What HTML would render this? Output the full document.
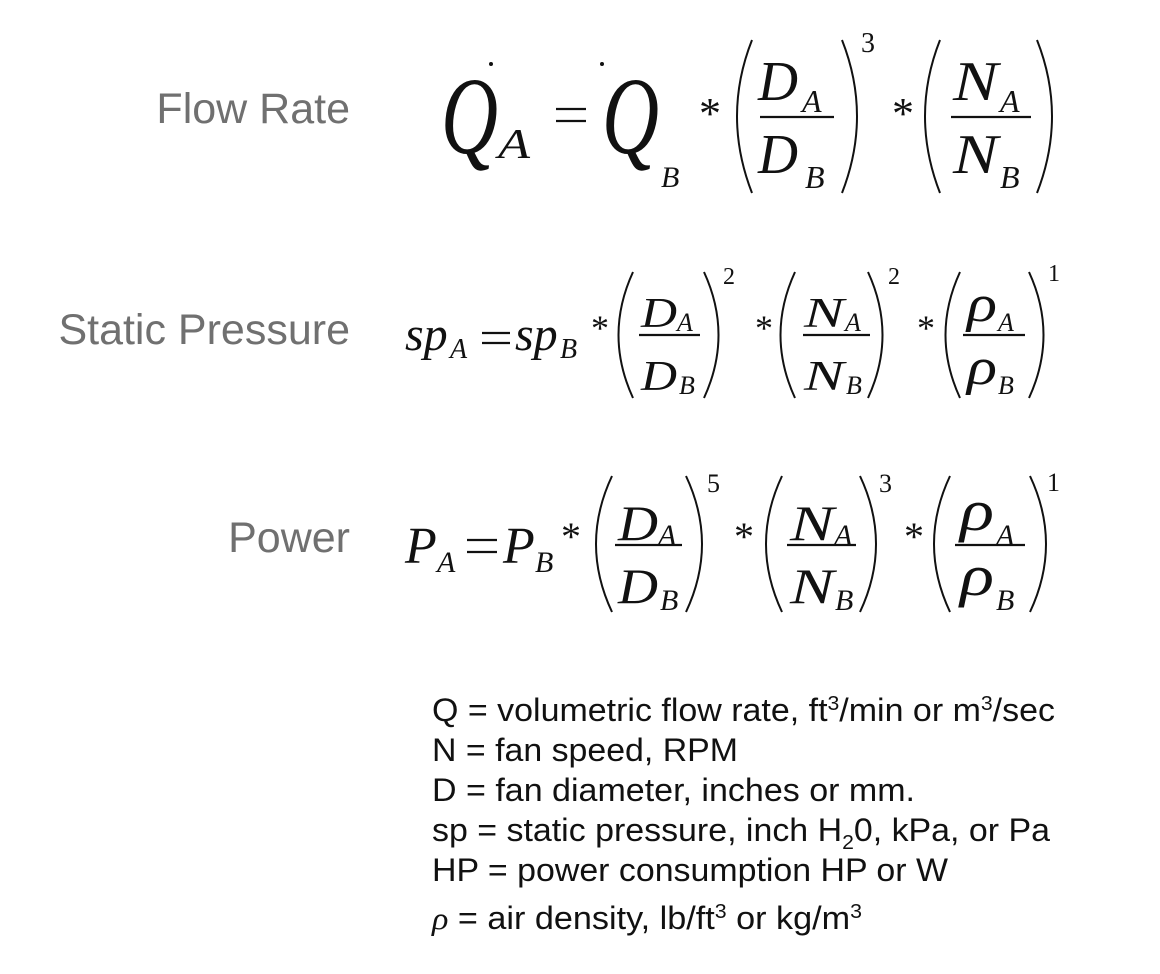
<!DOCTYPE html>
<html><head><meta charset="utf-8"><style>
html,body{margin:0;padding:0;background:#fff;}
svg{display:block;}
.l{font-family:"Liberation Sans",sans-serif;font-size:43px;fill:#707070;}
.m{font-family:"Liberation Serif",serif;font-style:italic;fill:#111;}
.n{font-family:"Liberation Serif",serif;fill:#111;}
.g{font-family:"Liberation Sans",sans-serif;font-size:32px;fill:#111;}
path{fill:none;stroke:#111;stroke-width:2;}
line{stroke:#111;stroke-width:2.2;}
</style></head><body>
<svg width="1160" height="974" viewBox="0 0 1160 974" xmlns="http://www.w3.org/2000/svg">
<text class="l" x="350" y="123" text-anchor="end">Flow Rate</text>
<text class="l" x="350" y="344" text-anchor="end">Static Pressure</text>
<text class="l" x="350" y="552" text-anchor="end">Power</text>

<!-- Eq1 -->
<text class="m" x="441" y="153" font-size="110" textLength="57" lengthAdjust="spacingAndGlyphs">Q</text>
<circle cx="491" cy="64" r="2" fill="#111"/>
<text class="m" x="498" y="158" font-size="42" textLength="32" lengthAdjust="spacingAndGlyphs">A</text>
<line x1="556" y1="109" x2="586" y2="109"/><line x1="556" y1="121" x2="586" y2="121"/>
<text class="m" x="602" y="153" font-size="110" textLength="57" lengthAdjust="spacingAndGlyphs">Q</text>
<circle cx="602" cy="64" r="2" fill="#111"/>
<text class="m" x="661" y="187" font-size="30">B</text>
<text class="n" x="699" y="128" font-size="44">*</text>
<path d="M752,40 Q722,116 752,193"/>
<text class="m" x="758" y="100" font-size="56" textLength="40" lengthAdjust="spacingAndGlyphs">D</text>
<text class="m" x="802" y="112" font-size="32">A</text>
<line x1="760" y1="117" x2="834" y2="117"/>
<text class="m" x="758" y="173" font-size="56" textLength="40" lengthAdjust="spacingAndGlyphs">D</text>
<text class="m" x="805" y="188" font-size="32">B</text>
<path d="M842,40 Q872,116 842,193"/>
<text class="n" x="861" y="52" font-size="28">3</text>
<text class="n" x="892" y="128" font-size="44">*</text>
<path d="M940,40 Q910,116 940,193"/>
<text class="m" x="953" y="100" font-size="56" textLength="45" lengthAdjust="spacingAndGlyphs">N</text>
<text class="m" x="1000" y="112" font-size="32">A</text>
<line x1="951" y1="117" x2="1031" y2="117"/>
<text class="m" x="953" y="173" font-size="56" textLength="45" lengthAdjust="spacingAndGlyphs">N</text>
<text class="m" x="1000" y="188" font-size="32">B</text>
<path d="M1037,40 Q1067,116 1037,193"/>

<!-- Eq2 -->
<text class="m" x="405" y="350" font-size="48">sp</text>
<text class="m" x="450" y="358" font-size="28">A</text>
<line x1="482" y1="333" x2="510" y2="333"/><line x1="482" y1="343" x2="510" y2="343"/>
<text class="m" x="515" y="350" font-size="48">sp</text>
<text class="m" x="560" y="358" font-size="28">B</text>
<text class="n" x="591" y="340" font-size="36">*</text>
<path d="M633,272 Q604,335 633,398"/>
<text class="m" x="641" y="327" font-size="42" textLength="36" lengthAdjust="spacingAndGlyphs">D</text>
<text class="m" x="677" y="331" font-size="26">A</text>
<line x1="639" y1="335" x2="700" y2="335"/>
<text class="m" x="641" y="390" font-size="42" textLength="36" lengthAdjust="spacingAndGlyphs">D</text>
<text class="m" x="679" y="394" font-size="26">B</text>
<path d="M704,272 Q733,335 704,398"/>
<text class="n" x="723" y="284" font-size="24">2</text>
<text class="n" x="755" y="340" font-size="36">*</text>
<path d="M795,272 Q766,335 795,398"/>
<text class="m" x="804" y="327" font-size="42" textLength="40" lengthAdjust="spacingAndGlyphs">N</text>
<text class="m" x="845" y="331" font-size="26">A</text>
<line x1="803" y1="335" x2="870" y2="335"/>
<text class="m" x="804" y="390" font-size="42" textLength="40" lengthAdjust="spacingAndGlyphs">N</text>
<text class="m" x="846" y="394" font-size="26">B</text>
<path d="M868,272 Q897,335 868,398"/>
<text class="n" x="888" y="284" font-size="24">2</text>
<text class="n" x="917" y="340" font-size="36">*</text>
<path d="M960,272 Q931,335 960,398"/>
<text class="m" x="967" y="321" font-size="52" textLength="30" lengthAdjust="spacingAndGlyphs">ρ</text>
<text class="m" x="998" y="331" font-size="26">A</text>
<line x1="963" y1="335" x2="1025" y2="335"/>
<text class="m" x="967" y="384" font-size="52" textLength="30" lengthAdjust="spacingAndGlyphs">ρ</text>
<text class="m" x="998" y="394" font-size="26">B</text>
<path d="M1029,272 Q1058,335 1029,398"/>
<text class="n" x="1048" y="281" font-size="24">1</text>

<!-- Eq3 -->
<text class="m" x="405" y="563" font-size="52">P</text>
<text class="m" x="437" y="572" font-size="30">A</text>
<line x1="467" y1="540" x2="497" y2="540"/><line x1="467" y1="552" x2="497" y2="552"/>
<text class="m" x="503" y="563" font-size="52">P</text>
<text class="m" x="535" y="572" font-size="30">B</text>
<text class="n" x="561" y="550" font-size="40">*</text>
<path d="M612,476 Q580,544 612,612"/>
<text class="m" x="618" y="540" font-size="50" textLength="40" lengthAdjust="spacingAndGlyphs">D</text>
<text class="m" x="658" y="545" font-size="30">A</text>
<line x1="615" y1="545" x2="682" y2="545"/>
<text class="m" x="618" y="603" font-size="50" textLength="40" lengthAdjust="spacingAndGlyphs">D</text>
<text class="m" x="660" y="610" font-size="30">B</text>
<path d="M686,476 Q718,544 686,612"/>
<text class="n" x="707" y="492" font-size="26">5</text>
<text class="n" x="734" y="550" font-size="40">*</text>
<path d="M782,476 Q750,544 782,612"/>
<text class="m" x="790" y="540" font-size="50" textLength="44" lengthAdjust="spacingAndGlyphs">N</text>
<text class="m" x="834" y="545" font-size="30">A</text>
<line x1="787" y1="545" x2="856" y2="545"/>
<text class="m" x="790" y="603" font-size="50" textLength="44" lengthAdjust="spacingAndGlyphs">N</text>
<text class="m" x="835" y="610" font-size="30">B</text>
<path d="M860,476 Q892,544 860,612"/>
<text class="n" x="879" y="492" font-size="26">3</text>
<text class="n" x="904" y="550" font-size="40">*</text>
<path d="M950,476 Q918,544 950,612"/>
<text class="m" x="960" y="530" font-size="58" textLength="34" lengthAdjust="spacingAndGlyphs">ρ</text>
<text class="m" x="996" y="545" font-size="30">A</text>
<line x1="955" y1="545" x2="1025" y2="545"/>
<text class="m" x="960" y="595" font-size="58" textLength="34" lengthAdjust="spacingAndGlyphs">ρ</text>
<text class="m" x="996" y="610" font-size="30">B</text>
<path d="M1030,476 Q1062,544 1030,612"/>
<text class="n" x="1047" y="491" font-size="26">1</text>

<!-- legend -->
<text class="g" x="432" y="721" textLength="623" lengthAdjust="spacingAndGlyphs">Q = volumetric flow rate, ft<tspan font-size="20" dy="-11">3</tspan><tspan dy="11">/min or m</tspan><tspan font-size="20" dy="-11">3</tspan><tspan dy="11">/sec</tspan></text>
<text class="g" x="432" y="761" textLength="306" lengthAdjust="spacingAndGlyphs">N = fan speed, RPM</text>
<text class="g" x="432" y="801" textLength="483" lengthAdjust="spacingAndGlyphs">D = fan diameter, inches or mm.</text>
<text class="g" x="432" y="841" textLength="618" lengthAdjust="spacingAndGlyphs">sp = static pressure, inch H<tspan font-size="20" dy="8">2</tspan><tspan dy="-8">0, kPa, or Pa</tspan></text>
<text class="g" x="432" y="881" textLength="516" lengthAdjust="spacingAndGlyphs">HP = power consumption HP or W</text>
<text class="g" x="432" y="929" textLength="430" lengthAdjust="spacingAndGlyphs"><tspan font-family="Liberation Serif, serif" font-style="italic">ρ</tspan> = air density, lb/ft<tspan font-size="20" dy="-11">3</tspan><tspan dy="11"> or kg/m</tspan><tspan font-size="20" dy="-11">3</tspan></text>
</svg>
</body></html>
